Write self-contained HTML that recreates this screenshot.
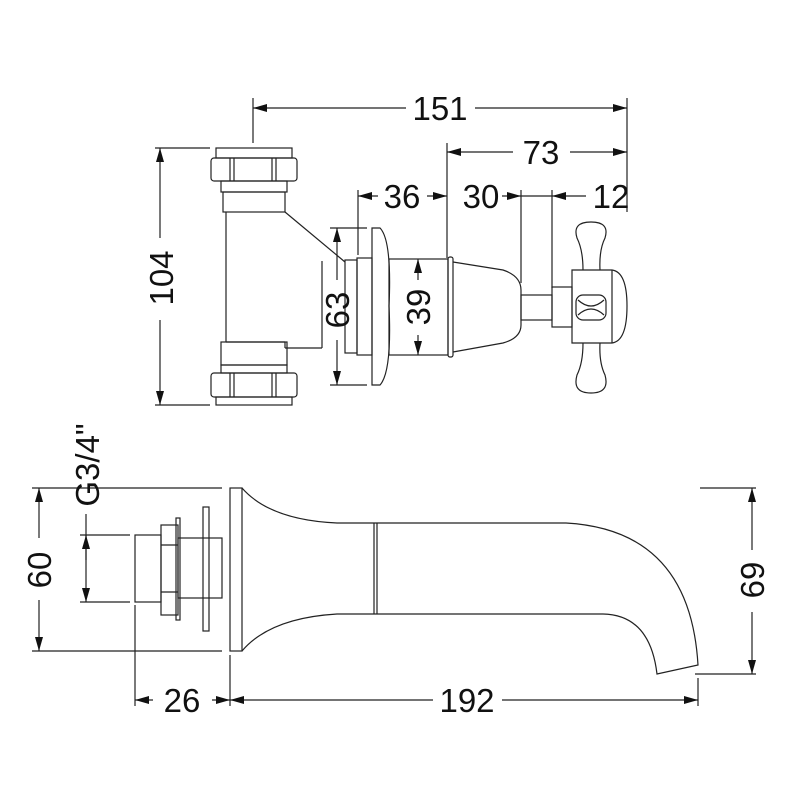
<!DOCTYPE html>
<html><head><style>
html,body{margin:0;padding:0;background:#fff;}
svg{display:block;}
text{font-family:"Liberation Sans",sans-serif;font-size:33px;fill:#111;}
</style></head><body>
<svg width="800" height="800" viewBox="0 0 800 800" xmlns="http://www.w3.org/2000/svg">
<defs>
<marker id="a" viewBox="0 0 10 10" refX="10" refY="5" markerWidth="14" markerHeight="8" markerUnits="userSpaceOnUse" orient="auto-start-reverse" preserveAspectRatio="none"><path d="M0,0L10,5L0,10z" fill="#111"/></marker>
</defs>
<g stroke="#222" stroke-width="1.2" fill="none">
<line x1="253" y1="98" x2="253" y2="143"/>
<line x1="627" y1="98" x2="627" y2="212"/>
<line x1="253" y1="108" x2="406" y2="108" marker-start="url(#a)"/>
<line x1="475" y1="108" x2="627" y2="108" marker-end="url(#a)"/>
<line x1="447" y1="143" x2="447" y2="258"/>
<line x1="447" y1="152" x2="513" y2="152" marker-start="url(#a)"/>
<line x1="570" y1="152" x2="627" y2="152" marker-end="url(#a)"/>
<line x1="358" y1="190" x2="358" y2="255"/>
<line x1="521" y1="190" x2="521" y2="283"/>
<line x1="552" y1="190" x2="552" y2="288"/>
<line x1="358" y1="196" x2="378" y2="196" marker-start="url(#a)"/>
<line x1="427" y1="196" x2="447" y2="196" marker-end="url(#a)"/>
<line x1="502" y1="196" x2="521" y2="196" marker-end="url(#a)"/>
<line x1="521" y1="196" x2="552" y2="196"/>
<line x1="586" y1="196" x2="552" y2="196" marker-end="url(#a)"/>
<line x1="155" y1="148" x2="210" y2="148"/>
<line x1="155" y1="405" x2="210" y2="405"/>
<line x1="160" y1="148" x2="160" y2="238" marker-start="url(#a)"/>
<line x1="160" y1="320" x2="160" y2="405" marker-end="url(#a)"/>
<line x1="330" y1="228" x2="367" y2="228"/>
<line x1="330" y1="385" x2="367" y2="385"/>
<line x1="337" y1="228" x2="337" y2="280" marker-start="url(#a)"/>
<line x1="337" y1="340" x2="337" y2="385" marker-end="url(#a)"/>
<line x1="418" y1="259" x2="418" y2="280" marker-start="url(#a)"/>
<line x1="418" y1="335" x2="418" y2="355" marker-end="url(#a)"/>

<rect x="216" y="148" width="76" height="10"/>
<rect x="211" y="158" width="86" height="23" rx="3"/>
<line x1="230" y1="158" x2="230" y2="181"/><line x1="234" y1="158" x2="234" y2="181"/>
<line x1="272" y1="158" x2="272" y2="181"/><line x1="276" y1="158" x2="276" y2="181"/>
<rect x="221" y="181" width="66" height="11"/>
<rect x="223" y="192" width="62" height="20"/>
<line x1="226" y1="212" x2="226" y2="342"/>
<line x1="285" y1="212" x2="345" y2="262"/>
<line x1="226" y1="342" x2="285" y2="342"/>
<line x1="285" y1="342" x2="285" y2="348"/>
<line x1="285" y1="348" x2="322" y2="348"/>
<line x1="322" y1="261" x2="322" y2="348"/>
<rect x="221" y="342" width="66" height="23"/>
<rect x="221" y="365" width="66" height="8"/>
<rect x="211" y="373" width="86" height="24" rx="3"/>
<line x1="230" y1="373" x2="230" y2="397"/><line x1="234" y1="373" x2="234" y2="397"/>
<line x1="272" y1="373" x2="272" y2="397"/><line x1="276" y1="373" x2="276" y2="397"/>
<rect x="216" y="397" width="76" height="8"/>
<rect x="345" y="260" width="12" height="93"/>
<rect x="357" y="258" width="15" height="97"/>
<path d="M372,228 L380,228 Q392,240 389,306 Q392,372 380,385 L372,385 Z"/>
<rect x="389" y="259" width="59" height="96"/>
<rect x="448" y="257" width="5" height="100" rx="2"/>
<path d="M453,262 L503,270 Q521,276 521,290 L521,325 Q521,338 503,343 L453,352"/>
<rect x="521" y="295" width="31" height="25"/>
<rect x="552" y="287" width="20" height="40"/>
<path d="M572,270 L612,270 Q627,272 627,306 Q627,341 612,343 L572,343 Z"/>
<line x1="612" y1="270" x2="612" y2="343"/>
<path d="M583,270 Q583,250 577,238 Q572,222 591,222 Q610,222 605,238 Q599,250 600,270"/>
<path d="M583,343 Q583,363 577,375 Q572,393 591,393 Q610,393 605,375 Q599,363 600,343"/>
<rect x="576" y="295" width="30" height="25" rx="7"/>
<path d="M578,300 Q591,312 604,300 M578,315 Q591,303 604,315"/>

<line x1="32" y1="488" x2="222" y2="488"/>
<line x1="32" y1="651" x2="222" y2="651"/>
<line x1="39" y1="488" x2="39" y2="538" marker-start="url(#a)"/>
<line x1="39" y1="600" x2="39" y2="651" marker-end="url(#a)"/>
<line x1="80" y1="535" x2="130" y2="535"/>
<line x1="80" y1="602" x2="130" y2="602"/>
<line x1="86" y1="514" x2="86" y2="602" marker-end="url(#a)"/>
<line x1="86" y1="535" x2="86" y2="560" marker-start="url(#a)"/>
<line x1="700" y1="488" x2="756" y2="488"/>
<line x1="695" y1="674" x2="756" y2="674"/>
<line x1="752" y1="488" x2="752" y2="550" marker-start="url(#a)"/>
<line x1="752" y1="612" x2="752" y2="674" marker-end="url(#a)"/>
<line x1="135" y1="605" x2="135" y2="706"/>
<line x1="230" y1="655" x2="230" y2="706"/>
<line x1="698" y1="678" x2="698" y2="706"/>
<line x1="135" y1="700" x2="153" y2="700" marker-start="url(#a)"/>
<line x1="212" y1="700" x2="230" y2="700" marker-end="url(#a)"/>
<line x1="230" y1="700" x2="433" y2="700" marker-start="url(#a)"/>
<line x1="502" y1="700" x2="698" y2="700" marker-end="url(#a)"/>
<rect x="135" y="535" width="26" height="67"/>
<rect x="161" y="525" width="17" height="90"/>
<line x1="161" y1="545" x2="178" y2="545"/><line x1="161" y1="592" x2="178" y2="592"/>
<rect x="176" y="518" width="4" height="102"/>
<rect x="178" y="538" width="44" height="60"/>
<rect x="203" y="507" width="6" height="124"/>
<rect x="230" y="488" width="12" height="163"/>
<path d="M242,488 Q270,520 337,523 L566,523 Q690,530 698,665 L657,674 Q650,615 603,614 L337,614 Q270,618 242,651"/>
<line x1="374" y1="523" x2="374" y2="614"/>
<line x1="377" y1="523" x2="377" y2="614"/>
</g>
<g>
<text x="440" y="120" text-anchor="middle">151</text>
<text x="541" y="164" text-anchor="middle">73</text>
<text x="402" y="208" text-anchor="middle">36</text>
<text x="481" y="208" text-anchor="middle">30</text>
<text x="611" y="208" text-anchor="middle">12</text>
<text transform="translate(173,278) rotate(-90)" text-anchor="middle">104</text>
<text transform="translate(349,310) rotate(-90)" text-anchor="middle">63</text>
<text transform="translate(430,307) rotate(-90)" text-anchor="middle">39</text>
<text transform="translate(51,570) rotate(-90)" text-anchor="middle">60</text>
<text transform="translate(99,465) rotate(-90)" text-anchor="middle">G3/4"</text>
<text transform="translate(764,580) rotate(-90)" text-anchor="middle">69</text>
<text x="182" y="712" text-anchor="middle">26</text>
<text x="467" y="712" text-anchor="middle">192</text>
</g>
</svg>
</body></html>
